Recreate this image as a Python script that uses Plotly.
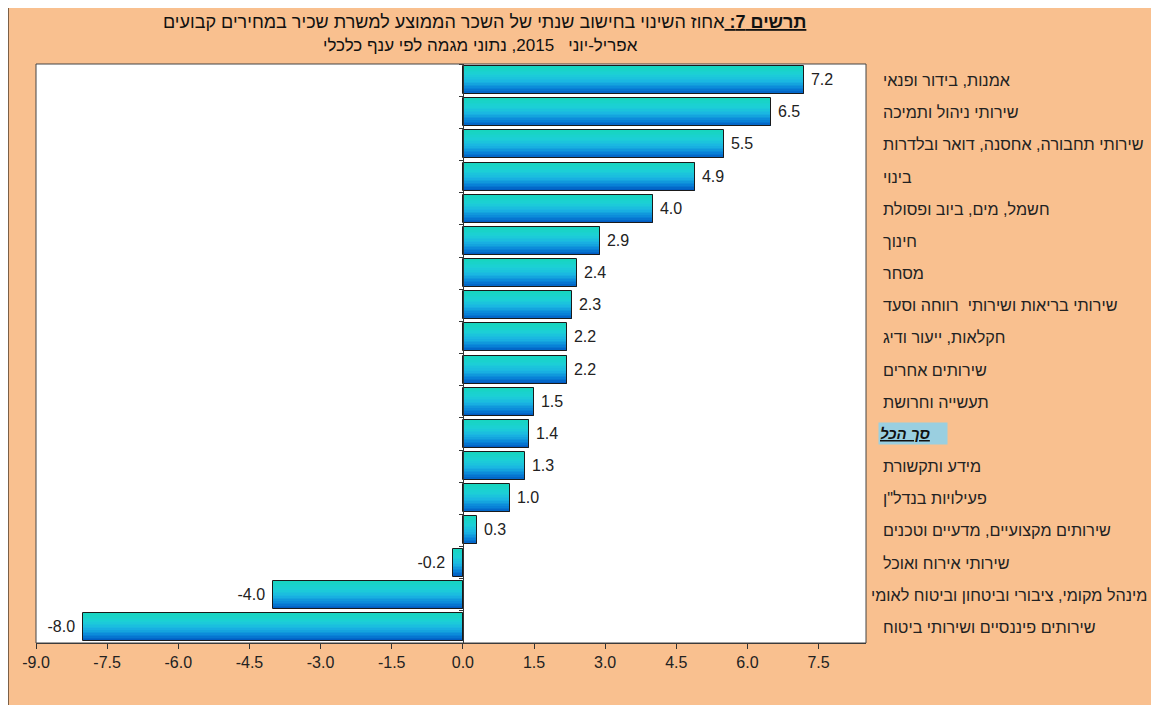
import plotly.graph_objects as go

# ---------------- data ----------------
categories = [
    "אמנות, בידור ופנאי",
    "שירותי ניהול ותמיכה",
    "שירותי תחבורה, אחסנה, דואר ובלדרות",
    "בינוי",
    "חשמל, מים, ביוב ופסולת",
    "חינוך",
    "מסחר",
    "שירותי בריאות ושירותי  רווחה וסעד",
    "חקלאות, ייעור ודיג",
    "שירותים אחרים",
    "תעשייה וחרושת",
    "סך הכל",
    "מידע ותקשורת",
    "פעילויות בנדל\"ן",
    "שירותים מקצועיים, מדעיים וטכנים",
    "שירותי אירוח ואוכל",
    "מינהל מקומי, ציבורי וביטחון וביטוח לאומי",
    "שירותים פיננסיים ושירותי ביטוח",
]
values = [7.2, 6.5, 5.5, 4.9, 4.0, 2.9, 2.4, 2.3, 2.2, 2.2, 1.5, 1.4, 1.3, 1.0, 0.3, -0.2, -4.0, -8.0]
x_tick_values = [-9.0, -7.5, -6.0, -4.5, -3.0, -1.5, 0.0, 1.5, 3.0, 4.5, 6.0, 7.5]
total_label = "סך הכל"
title_lead = "תרשים 7:"
title_rest = "אחוז השינוי בחישוב שנתי של השכר הממוצע למשרת שכיר במחירים קבועים"
title_line2 = "אפריל-יוני   2015, נתוני מגמה לפי ענף כלכלי"

# ---------------- layout geometry (page pixels; page has an 8px body margin) ----------------
PAGE_OFF = 8
W_FIG, H_FIG = 1159 - PAGE_OFF, 705 - PAGE_OFF
PLOT_L, PLOT_R, PLOT_T, PLOT_B = 36, 866, 64, 643  # page coordinates
M_L = PLOT_L - PAGE_OFF
M_T = PLOT_T - PAGE_OFF
M_R = W_FIG - (PLOT_R - PAGE_OFF)
M_B = H_FIG - (PLOT_B - PAGE_OFF)
PW = W_FIG - M_L - M_R
PH = H_FIG - M_T - M_B
X_RANGE = [-9.0, 8.5]

PEACH = "#F9C08F"
FONT = "Arial, Liberation Sans, DejaVu Sans, sans-serif"
LABEL_SIZE = 16.2


def px_x(p):  # page x -> paper fraction
    return (p - PLOT_L) / PW


def px_y(p):  # page y -> paper fraction
    return (PLOT_B - p) / PH


# vertical gradient stops (top -> bottom of each bar)
stops = [
    (0.0, (22, 214, 190)),
    (0.3, (28, 208, 214)),
    (0.55, (26, 182, 226)),
    (0.8, (8, 130, 216)),
    (1.0, (0, 86, 190)),
]


def grad(t):
    for (t0, c0), (t1, c1) in zip(stops[:-1], stops[1:]):
        if t0 <= t <= t1:
            f = (t - t0) / (t1 - t0)
            c = [round(a + (b - a) * f) for a, b in zip(c0, c1)]
            return "rgb(%d,%d,%d)" % tuple(c)
    return "rgb(%d,%d,%d)" % stops[-1][1]


N = 18
BAR_W = 0.87
OFF = -BAR_W / 2

fig = go.Figure()
for i in range(N):
    w = BAR_W * (N - i) / N
    tc = (N - i - 0.5) / N
    fig.add_trace(go.Bar(
        x=values, y=categories, orientation="h",
        width=w, offset=OFF,
        marker=dict(color=grad(tc), line=dict(width=0)),
        hoverinfo="skip", showlegend=False,
    ))

labels = [(" %.1f" % v) if v >= 0 else ("%.1f " % v) for v in values]
fig.add_trace(go.Bar(
    x=values, y=categories, orientation="h",
    width=BAR_W, offset=OFF,
    marker=dict(color="rgba(0,0,0,0)", line=dict(color="#1a1a1a", width=1)),
    text=labels, textposition="outside", constraintext="none",
    textfont=dict(size=16, color="#222222", family=FONT),
    cliponaxis=False, hoverinfo="skip", showlegend=False,
))

longest = max(categories, key=len)
annotations = []
for c in categories:
    if c == total_label:
        annotations.append(dict(
            x=1, xref="paper", y=c, yref="y", xanchor="left", yanchor="middle",
            xshift=12, showarrow=False, align="left", width=66, height=19,
            bgcolor="#9ACFE0",
            text="<b><i><u>%s</u></i></b>" % c,
            font=dict(size=15, color="#111111", family=FONT),
        ))
    elif c == longest:
        # too long for the space at the right: it ends at the right edge
        annotations.append(dict(
            x=px_x(1149), xref="paper", y=c, yref="y", xanchor="right", yanchor="middle",
            showarrow=False, align="right",
            text=c, font=dict(size=LABEL_SIZE, color="#222222", family=FONT),
        ))
    else:
        annotations.append(dict(
            x=1, xref="paper", y=c, yref="y", xanchor="left", yanchor="middle",
            xshift=15, showarrow=False, align="left",
            text=c, font=dict(size=LABEL_SIZE, color="#222222", family=FONT),
        ))

annotations.append(dict(
    x=px_x(484), xref="paper", y=px_y(22), yref="paper",
    xanchor="center", yanchor="middle", showarrow=False,
    text="<b><u>%s </u></b>%s" % (title_lead, title_rest),
    font=dict(size=18, color="#111111", family=FONT),
))
annotations.append(dict(
    x=px_x(480), xref="paper", y=px_y(45), yref="paper",
    xanchor="center", yanchor="middle", showarrow=False,
    text=title_line2,
    font=dict(size=17, color="#111111", family=FONT),
))

shapes = [
    # black frame lines along the top and left edges of the figure
    dict(type="line", xref="paper", yref="paper", x0=px_x(PAGE_OFF - 1), x1=px_x(1170), y0=px_y(PAGE_OFF - 1),
         y1=px_y(PAGE_OFF - 1), line=dict(color="black", width=2), layer="above"),
    dict(type="line", xref="paper", yref="paper", x0=px_x(PAGE_OFF - 0.5), x1=px_x(PAGE_OFF - 0.5),
         y0=px_y(PAGE_OFF - 1), y1=px_y(720), line=dict(color="black", width=2), layer="above"),
    # plot area border
    dict(type="rect", xref="paper", yref="paper", x0=0, x1=1, y0=0, y1=1,
         line=dict(color="#444444", width=1), layer="above"),
]

zero_pos = (0 - X_RANGE[0]) / (X_RANGE[1] - X_RANGE[0])

fig.update_layout(
    width=W_FIG, height=H_FIG,
    margin=dict(l=M_L, r=M_R, t=M_T, b=M_B, pad=0),
    paper_bgcolor=PEACH, plot_bgcolor="white",
    barmode="overlay", bargap=0,
    font=dict(family=FONT, color="#222222"),
    xaxis=dict(
        range=X_RANGE, tickvals=x_tick_values,
        ticktext=["%.1f" % v for v in x_tick_values],
        ticks="outside", ticklen=5, tickcolor="#333333",
        showline=True, linecolor="#333333", linewidth=1,
        showgrid=False, zeroline=False,
        tickfont=dict(size=16, color="#222222", family=FONT),
        fixedrange=True,
    ),
    yaxis=dict(
        type="category", categoryorder="array", categoryarray=categories,
        autorange="reversed", anchor="free", position=zero_pos,
        showline=True, linecolor="#333333", linewidth=1,
        ticks="outside", ticklen=4, tickcolor="#333333", tickson="boundaries",
        showticklabels=False, showgrid=False, zeroline=False,
        fixedrange=True,
    ),
    annotations=annotations,
    shapes=shapes,
)

fig.write_html("out.html")
